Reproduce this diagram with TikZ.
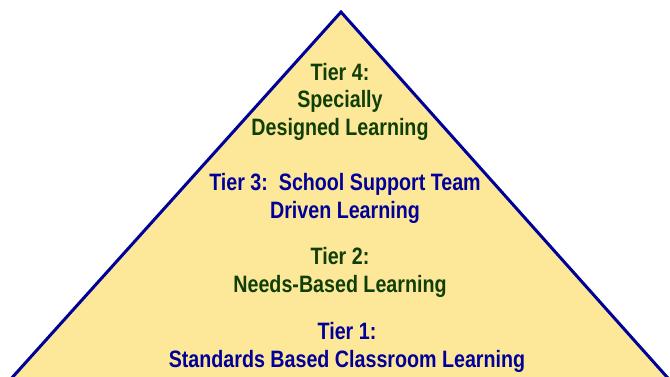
\documentclass[tikz,border=0pt]{standalone}
\usepackage{fontspec}
\setmainfont[FakeStretch=0.83]{Liberation Sans}
\definecolor{pyrfill}{HTML}{FDE89A}
\definecolor{pyrline}{HTML}{000099}
\definecolor{tiergreen}{HTML}{0F3F05}
\definecolor{tierblue}{HTML}{000099}
\tikzset{
  tier/.style={align=center, inner sep=0pt, font=\fontsize{23.7}{27.5}\selectfont\bfseries},
  greentier/.style={tier, text=tiergreen},
  bluetier/.style={tier, text=tierblue},
}
\begin{document}
\begin{tikzpicture}[x=1pt,y=-1pt]
  \useasboundingbox (0,0) rectangle (670,377);
  \clip (0,0) rectangle (670,377);
  % pyramid, base runs past the bottom edge
  \coordinate (apex) at (341,12);
  \coordinate (bl) at (-8,400);
  \coordinate (br) at (687.5,400);
  \filldraw[fill=pyrfill, draw=pyrline, line width=3pt, line join=miter]
    (bl) -- (apex) -- (br) -- cycle;
  % tier labels
  \node[greentier] (t4) at (340,101.5) {Tier 4:\\Specially\\Designed Learning};
  \node[bluetier]  (t3) at (345,198.5) {Tier 3:\ \ School Support Team\\Driven Learning};
  \node[greentier] (t2) at (340,272.5) {Tier 2:\\Needs-Based Learning};
  \node[bluetier]  (t1) at (347,347.5) {Tier 1:\\Standards Based Classroom Learning};
\end{tikzpicture}
\end{document}
